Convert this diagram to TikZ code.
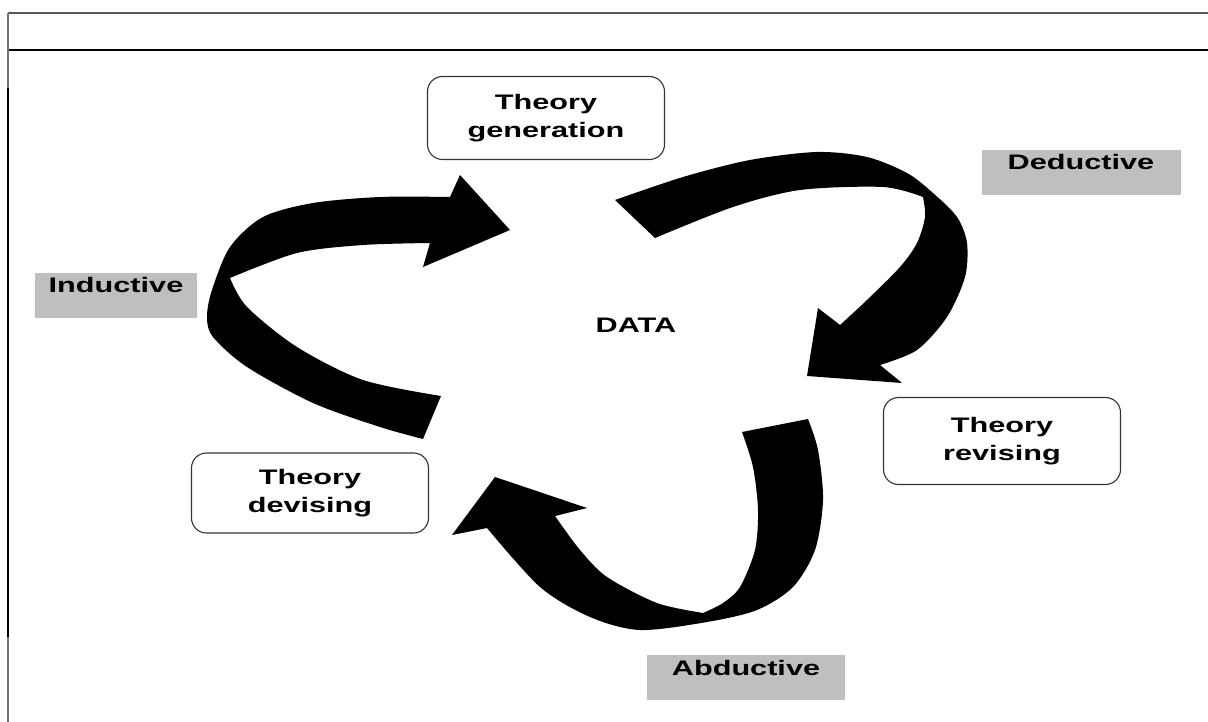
\documentclass[tikz,border=0pt]{standalone}
\usepackage{fontspec}
\setmainfont{Liberation Sans}[FakeStretch=1.46]
\usetikzlibrary{positioning}

\tikzset{
  theorybox/.style={draw=black!80, line width=1.1, rounded corners=15,
    minimum width=237, align=center, inner sep=0,
    font=\fontsize{21}{28}\selectfont\bfseries},
  modelabel/.style={fill=black!25, inner sep=0, anchor=base,
    text height=20, text depth=25, font=\fontsize{21}{28}\selectfont\bfseries},
  ribbon/.style={fill=black}
}

\begin{document}
\begin{tikzpicture}[x=1pt, y=-1pt]
    \useasboundingbox (0,0) rectangle (1208,722);

    % First draw the frame
    \draw[black!65, line width=2] (8,13) -- (1208,13);
    \draw[line width=1.5] (8,50) -- (1208,50);
    \draw[black!55, line width=2] (8,13) -- (8,88);
    \draw[line width=2] (8,88) -- (8,637);
    \draw[black!55, line width=2] (8,637) -- (8,722);

    % Next, the three theory boxes
    \node [theorybox, minimum height=83] (gen) at (546,118) {Theory\\generation};
    \node [theorybox, minimum height=87] (rev) at (1002,441) {Theory\\revising};
    \node [theorybox, minimum height=80] (dev) at (310,493) {Theory\\devising};

    % The three modes of reasoning
    \node [modelabel, minimum width=199] (ded) at (1081,170) {Deductive};
    \node [modelabel, minimum width=162] (ind) at (116,293) {Inductive};
    \node [modelabel, minimum width=198] (abd) at (746,675) {Abductive};

    \node [anchor=base, font=\fontsize{21}{28}\selectfont\bfseries] (data) at (636,332) {DATA};

    % Inductive arrow, up into the generation box
    \coordinate (I0) at (510,230);
    \fill[ribbon] plot[smooth] coordinates {(441,396) (363,380) (297,347) (247,307) (230,278)}
      -- plot[smooth] coordinates {(230,278) (297,253) (363,245) (430,243)}
      -- (423,267) -- (I0) -- (460,175) -- (450,197)
      -- plot[smooth] coordinates {(450,197) (380,197) (313,203) (263,217) (230,247)
           (212,290) (207,317) (213,337) (247,367) (313,403) (380,427) (423,439)}
      -- cycle;

    % Deductive arrow, down to the revising box
    \coordinate (D0) at (807,376);
    \fill[ribbon] plot[smooth] coordinates {(655,238) (733,207) (800,190) (883,187) (923,197)}
      -- plot[smooth] coordinates {(923,197) (925,217) (917,243) (900,267) (867,300) (840,325)}
      -- (818,308) -- (D0) -- (902,383) -- (880,365)
      -- plot[smooth] coordinates {(880,365) (917,350) (947,317) (965,277) (967,243)
           (957,217) (933,193) (907,173) (867,157) (817,152) (750,160) (683,177) (615,200)}
      -- cycle;

    % Abductive arrow, round to the devising box
    \coordinate (A0) at (495,477);
    \fill[ribbon] plot[smooth] coordinates {(742,432) (753,467) (758,510) (755,550) (740,587) (723,603) (703,613)}
      -- plot[smooth] coordinates {(703,613) (657,603) (607,577) (580,550) (555,516)}
      -- (587,508) -- (A0) -- (452,535) -- (487,528)
      -- plot[smooth] coordinates {(487,528) (540,587) (590,617) (640,630) (707,622)
           (757,610) (793,587) (815,550) (823,500) (818,450) (808,419)}
      -- cycle;
  \end{tikzpicture}
\end{document}
